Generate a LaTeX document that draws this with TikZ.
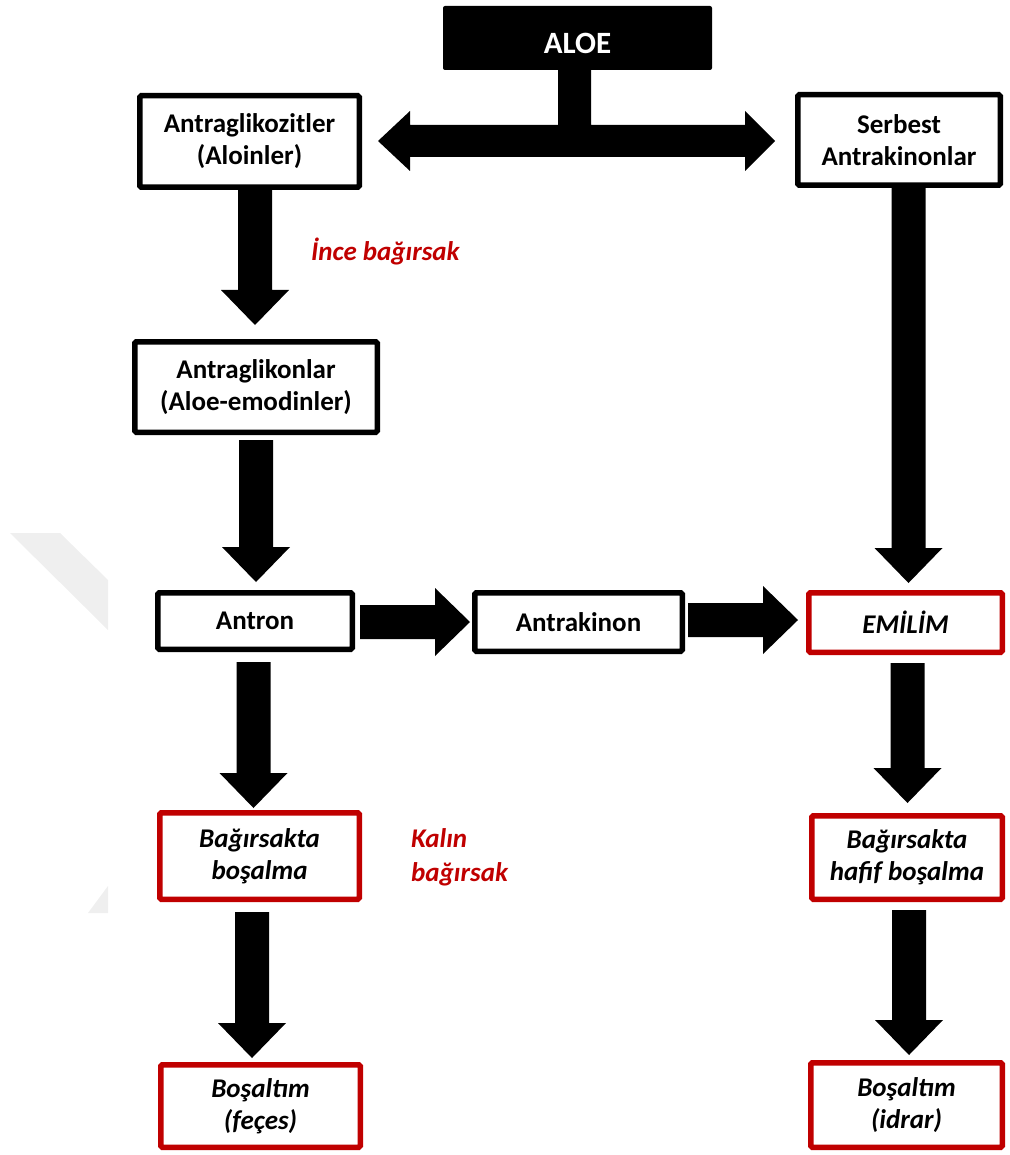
\documentclass[tikz,border=0pt]{standalone}
\usepackage{fontspec}
\setmainfont{Carlito}
\usetikzlibrary{calc}
\definecolor{boxred}{HTML}{C00000}
\definecolor{faint}{HTML}{EFEFEF}

% vertical block arrow: source, target, x-shift, gap below source, gap above target
\newcommand\vfat[5]{%
  \fill let \p1=($(#1.south)+(#3,0)$), \p2=(#2.north) in
    (\x1-17pt,\y1-#4pt) -- (\x1+17pt,\y1-#4pt) --
    (\x1+17pt,\y2+#5pt+35pt) -- (\x1+34pt,\y2+#5pt+35pt) --
    (\x1,\y2+#5pt) --
    (\x1-34pt,\y2+#5pt+35pt) -- (\x1-17pt,\y2+#5pt+35pt) -- cycle;}

% horizontal block arrow: source, target, y-shift, gap after source, gap before target
\newcommand\hfat[5]{%
  \fill let \p1=($(#1.east)+(0,#3)$), \p2=(#2.west) in
    (\x1+#4pt,\y1+17pt) -- (\x2-#5pt-35pt,\y1+17pt) --
    (\x2-#5pt-35pt,\y1+34pt) -- (\x2-#5pt,\y1) --
    (\x2-#5pt-35pt,\y1-34pt) -- (\x2-#5pt-35pt,\y1-17pt) --
    (\x1+#4pt,\y1-17pt) -- cycle;}

\begin{document}
\begin{tikzpicture}[x=1pt,y=-1pt,
  every node/.style={font=\fontsize{27}{32}\selectfont\bfseries, align=center, inner sep=0pt},
  blackbox/.style={draw=black, line width=5.5pt, fill=white, rounded corners=1.5pt},
  redbox/.style={draw=boxred, line width=5.5pt, fill=white, rounded corners=1.5pt,
    font=\fontsize{27}{32}\selectfont\bfseries\itshape},
  redlabel/.style={text=boxred, align=left,
    font=\fontsize{27}{34}\selectfont\bfseries\itshape},
  topbox/.style={fill=black, text=white, rounded corners=2pt,
    font=\fontsize{31}{36}\selectfont\bfseries}]

\useasboundingbox (0,0) rectangle (1009,1155);

% faint background marks
\fill[faint] (10,533) -- (60,533) -- (108,580) -- (108,630) -- cycle;
\fill[faint] (108,886) -- (108,913) -- (88,913) -- cycle;

% boxes
\node[topbox, minimum width=269, minimum height=64] (aloe) at (577.5,38) {};
\node[text=white, font=\fontsize{31}{36}\selectfont\bfseries] (aloetext) at (577.5,43) {ALOE};
\node[blackbox, minimum width=219.5, minimum height=91.5] (glik) at (249.5,141.5) {Antraglikozitler\\(Aloinler)};
\node[blackbox, minimum width=202.5, minimum height=90.5] (serb) at (899,140) {Serbest\\Antrakinonlar};
\node[blackbox, minimum width=242.5, minimum height=90.5] (glikon) at (256,387) {Antraglikonlar\\(Aloe-emodinler)};
\node[blackbox, minimum width=194.5, minimum height=56.5] (antron) at (255,621) {Antron};
\node[blackbox, minimum width=207.5, minimum height=58.5] (antrak) at (578.5,622) {Antrakinon};
\node[redbox, minimum width=193.5, minimum height=59.5] (emilim) at (905.5,622.5) {EMİLİM};
\node[redbox, minimum width=199.5, minimum height=86.5] (bosalma) at (259.5,856) {Bağırsakta\\boşalma};
\node[redbox, minimum width=190.5, minimum height=83.5] (hafif) at (907,857.5) {Bağırsakta\\hafif boşalma};
\node[redbox, minimum width=199.5, minimum height=82.5] (feces) at (260.5,1106) {Boşaltım\\(feçes)};
\node[redbox, minimum width=191.5, minimum height=84.5] (idrar) at (906.5,1105) {Boşaltım\\(idrar)};

% side labels
\node[redlabel, anchor=west] (ince) at (311,252) {İnce bağırsak};
\node[redlabel, anchor=west] (kalin) at (411,857) {Kalın\\bağırsak};

% T-shaped split from the top box
\fill let \p1=($(aloe.south)+(-3,0)$), \p2=(glik.east), \p3=(serb.west),
          \p4=($(serb.west)+(0,1)$) in
  (\x1-16.5pt,\y1+2pt) -- (\x1+16.5pt,\y1+2pt) -- (\x1+16.5pt,\y4+16pt) --
  (\x3-50pt,\y4+16pt) -- (\x3-50pt,\y4+30pt) -- (\x3-20pt,\y4) --
  (\x3-50pt,\y4-30pt) -- (\x3-50pt,\y4-16pt) --
  (\x2+48pt,\y4-16pt) -- (\x2+48pt,\y4-30pt) -- (\x2+16pt,\y4) --
  (\x2+48pt,\y4+30pt) -- (\x2+48pt,\y4+16pt) -- (\x1-16.5pt,\y4+16pt) -- cycle;

% left column
\vfat{glik}{glikon}{5.5}{0}{14}
\vfat{glikon}{antron}{0}{5}{8}
\vfat{antron}{bosalma}{-1.5}{10}{2}
\vfat{bosalma}{feces}{-7.5}{10}{4}

% middle row
\hfat{antron}{antrak}{1}{5}{2}
\hfat{antrak}{emilim}{-2}{3}{8}

% right column
\vfat{serb}{emilim}{9.5}{0}{7}
\vfat{emilim}{hafif}{2}{8}{10}
\vfat{hafif}{idrar}{2}{8}{5}

\end{tikzpicture}
\end{document}
